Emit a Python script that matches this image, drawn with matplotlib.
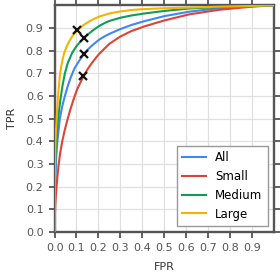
import matplotlib
matplotlib.use("Agg")
import matplotlib.pyplot as plt

fpr_all = [0, 0.0005, 0.001, 0.002, 0.004, 0.008, 0.012, 0.016, 0.024, 0.035, 0.047, 0.06, 0.073, 0.09,
           0.11, 0.132, 0.15, 0.17, 0.19, 0.206, 0.23, 0.25, 0.3, 0.35, 0.41, 0.5, 0.615, 0.75, 0.9, 1.0]
tpr_all = [0, 0.08, 0.13, 0.19, 0.26, 0.34, 0.39, 0.43, 0.5, 0.555, 0.6, 0.643, 0.68, 0.72,
           0.752, 0.783, 0.803, 0.822, 0.838, 0.85, 0.864, 0.874, 0.895, 0.913, 0.93, 0.952, 0.972, 0.987, 0.996, 1.0]

fpr_small = [0, 0.001, 0.003, 0.006, 0.009, 0.013, 0.018, 0.025, 0.035, 0.047, 0.06, 0.072, 0.085, 0.103,
             0.13, 0.15, 0.17, 0.19, 0.206, 0.25, 0.3, 0.35, 0.41, 0.5, 0.615, 0.75, 0.9, 1.0]
tpr_small = [0, 0.06, 0.12, 0.165, 0.2, 0.245, 0.293, 0.345, 0.4, 0.452, 0.5, 0.54, 0.58, 0.63,
             0.683, 0.717, 0.745, 0.77, 0.788, 0.83, 0.862, 0.886, 0.907, 0.933, 0.96, 0.98, 0.994, 1.0]

fpr_medium = [0, 0.0005, 0.001, 0.002, 0.004, 0.008, 0.012, 0.016, 0.022, 0.029, 0.037, 0.047, 0.06, 0.08,
              0.1, 0.12, 0.135, 0.16, 0.18, 0.206, 0.229, 0.25, 0.3, 0.35, 0.41, 0.5, 0.615, 0.75, 0.9, 1.0]
tpr_medium = [0, 0.12, 0.18, 0.25, 0.33, 0.41, 0.46, 0.5, 0.55, 0.6, 0.65, 0.7, 0.745, 0.79,
              0.82, 0.842, 0.857, 0.878, 0.893, 0.91, 0.922, 0.931, 0.945, 0.955, 0.964, 0.975, 0.986, 0.992, 0.997, 1.0]

fpr_large = [0, 0.0005, 0.001, 0.002, 0.004, 0.007, 0.01, 0.013, 0.016, 0.02, 0.024, 0.03, 0.037, 0.044, 0.055,
             0.065, 0.08, 0.09, 0.103, 0.12, 0.14, 0.16, 0.18, 0.206, 0.25, 0.3, 0.35, 0.4, 0.5, 0.615, 0.75, 0.9, 1.0]
tpr_large = [0, 0.2, 0.26, 0.32, 0.40, 0.46, 0.51, 0.56, 0.6, 0.648, 0.69, 0.73, 0.763, 0.79, 0.818,
             0.838, 0.862, 0.875, 0.889, 0.904, 0.918, 0.93, 0.94, 0.951, 0.964, 0.973, 0.979, 0.983, 0.987, 0.99, 0.994, 0.997, 1.0]

labels = ["All", "Small", "Medium", "Large"]
colors = ["#4285F4", "#DB4437", "#0F9D58", "#F4B400"]

op_fpr = [0.132, 0.130, 0.135, 0.103]
op_tpr = [0.783, 0.686, 0.857, 0.889]

ticks = [0.0, 0.1, 0.2, 0.3, 0.4, 0.5, 0.6, 0.7, 0.8, 0.9]

fig = plt.figure(figsize=(2.8, 2.8), dpi=100)
ax = fig.add_axes([0.195, 0.172, 0.782, 0.809])

curves = [(fpr_all, tpr_all), (fpr_small, tpr_small), (fpr_medium, tpr_medium), (fpr_large, tpr_large)]
for (x, y), lab, c in zip(curves, labels, colors):
    ax.plot(x, y, color=c, lw=1.5, label=lab, zorder=3, solid_joinstyle="round")
ax.plot(op_fpr, op_tpr, linestyle="none", marker="x", color="#111111", markersize=6, markeredgewidth=1.6, zorder=4)

ax.set_xlim(0, 1)
ax.set_ylim(0, 1)
ax.set_xticks(ticks)
ax.set_yticks(ticks)
ax.set_xticklabels([f"{t:.1f}" for t in ticks])
ax.set_yticklabels([f"{t:.1f}" for t in ticks])
ax.grid(True, color="#e0e0e0", lw=0.9, zorder=0)
ax.tick_params(axis="both", which="both", direction="out", length=4, width=1.3, color="#555555",
               labelsize=8, labelcolor="#555555", top=True, right=True)
ax.tick_params(axis="x", pad=4)
ax.tick_params(axis="y", pad=4)
for s in ax.spines.values():
    s.set_color("#555555")
    s.set_linewidth(1.7)
ax.set_xlabel("FPR", fontsize=8, color="#333333", labelpad=6.5)
ax.set_ylabel("TPR", fontsize=8, color="#333333", labelpad=6)
leg = ax.legend(loc="lower right", fontsize=8.5, fancybox=False, edgecolor="#999999", framealpha=1,
                handlelength=2.0, handletextpad=0.8, borderpad=0.45, labelspacing=0.5)
leg.get_frame().set_linewidth(1.0)
fig.savefig("out.png", dpi=100)
